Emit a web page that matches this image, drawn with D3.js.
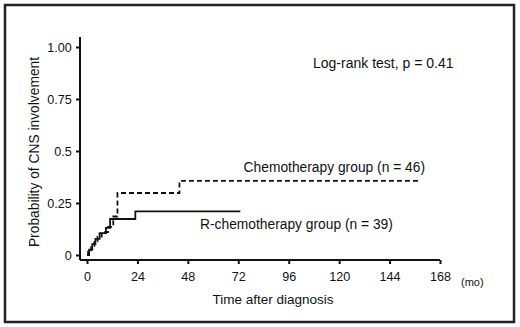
<!DOCTYPE html>
<html>
<head>
<meta charset="utf-8">
<script src="https://cdn.jsdelivr.net/npm/d3@7"></script>
<style>
  body { margin: 0; background: #fff; }
  text { font-family: Arial, "Liberation Sans", sans-serif; fill: #111; }
</style>
</head>
<body>
<svg id="chart"></svg>
<script>
// Kaplan-Meier style cumulative incidence
const chemoTimes = [0, 0.5, 2, 3.5, 5, 7, 10, 12.5, 14.5, 44, 158];
const chemoProb = [0, 0.022, 0.044, 0.066, 0.088, 0.11, 0.135, 0.185, 0.298, 0.356, 0.356];
const rchemoTimes = [0, 1, 2.5, 4, 6, 9, 11, 23, 73];
const rchemoProb = [0, 0.026, 0.052, 0.078, 0.105, 0.13, 0.173, 0.21, 0.21];
const xTicks = [0, 24, 48, 72, 96, 120, 144, 168];
const yTicks = [0, 0.25, 0.5, 0.75, 1];
const yTickLabels = ['0', '0.25', '0.5', '0.75', '1.00'];

const W = 520, H = 327;
const svg = d3.select('#chart').attr('width', W).attr('height', H);

svg.append('rect')
	.attr('x', 5).attr('y', 5).attr('width', 509).attr('height', 317)
	.attr('fill', 'none').attr('stroke', '#222').attr('stroke-width', 2.5);

const x = d3.scaleLinear().domain([0, 168]).range([87, 440]);
const y = d3.scaleLinear().domain([0, 1]).range([255, 47]);
const axisY = 260, axisX = 80;

// axes
const xAxis = svg.append('g').attr('transform', `translate(0,${axisY})`)
	.call(d3.axisBottom(x).tickValues(xTicks).tickSize(4).tickSizeOuter(0));
xAxis.select('.domain').attr('d', `M${axisX},0H${x(168)}`);
const yAxis = svg.append('g').attr('transform', `translate(${axisX},0)`)
	.call(d3.axisLeft(y).tickValues(yTicks).tickSize(4).tickSizeOuter(0)
		.tickFormat((d, i) => yTickLabels[i]));
yAxis.select('.domain').attr('d', `M0,37V${axisY}`);

[xAxis, yAxis].forEach(g => {
	g.selectAll('.domain, .tick line').attr('stroke', '#111').attr('stroke-width', 2);
	g.selectAll('.tick text').style('font-size', '12.6px').attr('fill', '#222')
		.style('font-family', 'Arial, "Liberation Sans", sans-serif');
});
xAxis.selectAll('.tick text').attr('dy', '1.15em');
yAxis.selectAll('.tick text').attr('dx', '-0.1em');

// curves
const line = d3.line().curve(d3.curveStepAfter)
	.x(d => x(d[0])).y(d => y(d[1]));

svg.append('path')
	.datum(chemoTimes.map((t, i) => [t, chemoProb[i]]))
	.attr('d', line)
	.attr('fill', 'none').attr('stroke', '#111').attr('stroke-width', 1.8)
	.attr('stroke-dasharray', '5,3');

svg.append('path')
	.datum(rchemoTimes.map((t, i) => [t, rchemoProb[i]]))
	.attr('d', line)
	.attr('fill', 'none').attr('stroke', '#111').attr('stroke-width', 1.8);

// labels
svg.append('text').attr('x', 313).attr('y', 68)
	.style('font-size', '14px').text('Log-rank test, p = 0.41');
svg.append('text').attr('x', 425).attr('y', 172).attr('text-anchor', 'end')
	.style('font-size', '13.8px').text('Chemotherapy group (n = 46)');
svg.append('text').attr('x', 200).attr('y', 229)
	.style('font-size', '13.8px').text('R-chemotherapy group (n = 39)');
svg.append('text').attr('x', 273).attr('y', 304).attr('text-anchor', 'middle')
	.style('font-size', '13.5px').text('Time after diagnosis');
svg.append('text').attr('x', 461).attr('y', 286)
	.style('font-size', '11px').text('(mo)');
svg.append('text')
	.attr('transform', 'translate(39,152) rotate(-90)')
	.attr('text-anchor', 'middle')
	.style('font-size', '13.8px').text('Probability of CNS involvement');
</script>
</body>
</html>
